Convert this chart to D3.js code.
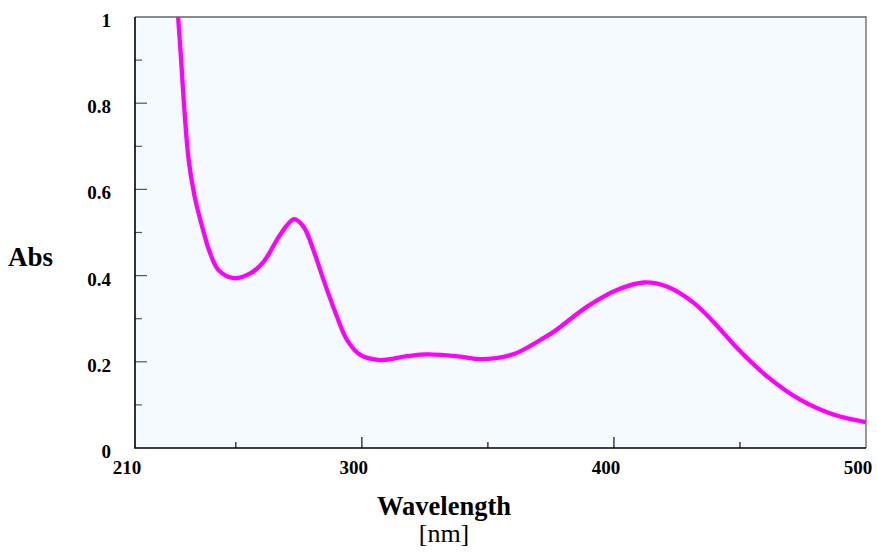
<!DOCTYPE html>
<html>
<head>
<meta charset="utf-8">
<script src="https://cdn.jsdelivr.net/npm/d3@7"></script>
<style>
  html, body { margin: 0; padding: 0; background: #fff; }
  svg { display: block; font-family: "Liberation Serif", "Times New Roman", serif; }
</style>
</head>
<body>
<svg id="chart" width="877" height="552"></svg>
<script>
// spectrum
const wavelength = [227.1, 228.3, 229.6, 231.3, 233.6, 236.8, 239.8, 243.1, 249.3, 255.7, 261.0, 266.3, 270.3, 273.2, 276.9, 280.8, 284.8, 290.1, 294.1, 299.4, 307.3, 317.9, 325.9, 339.1, 347.1, 360.3, 370.9, 376.2, 389.4, 401.4, 411.9, 421.2, 431.8, 442.4, 447.7, 461.0, 474.2, 487.4, 500];
const absorbance = [1.0, 0.9, 0.784, 0.668, 0.585, 0.51, 0.452, 0.413, 0.394, 0.405, 0.432, 0.483, 0.517, 0.531, 0.513, 0.459, 0.39, 0.305, 0.251, 0.216, 0.204, 0.213, 0.217, 0.212, 0.206, 0.218, 0.251, 0.27, 0.328, 0.367, 0.384, 0.374, 0.336, 0.274, 0.239, 0.165, 0.111, 0.077, 0.06];
const xTickLabels = [210, 300, 400, 500];
const xMinorTicks = [250, 350, 450];
const yTickLabels = [0, 0.2, 0.4, 0.6, 0.8, 1];
const yMinorTicks = [0.1, 0.3, 0.5, 0.7, 0.9];

const svg = d3.select('#chart');
const plotLeft = 135, plotRight = 866, plotTop = 17, plotBottom = 448;

const x = d3.scaleLinear().domain([210, 500]).range([plotLeft, plotRight]);
const y = d3.scaleLinear().domain([0, 1]).range([plotBottom, plotTop]);

svg.append('rect')
  .attr('x', plotLeft).attr('y', plotTop)
  .attr('width', plotRight - plotLeft).attr('height', plotBottom - plotTop)
  .attr('fill', '#f5fafe');

svg.append('clipPath').attr('id', 'plot')
  .append('rect').attr('x', plotLeft).attr('y', plotTop)
  .attr('width', plotRight - plotLeft).attr('height', plotBottom - plotTop);

// frame: top and right are grey, axes black
svg.append('path')
  .attr('d', `M${plotLeft},${plotTop}H${plotRight}V${plotBottom}`)
  .attr('fill', 'none').attr('stroke', '#666').attr('stroke-width', 1.3);

// y ticks (inward)
svg.append('g').selectAll('line')
  .data(yTickLabels.filter((v) => v > 0 && v < 1).map((v) => [v, 12]).concat(yMinorTicks.map((v) => [v, 7])))
  .join('line')
  .attr('x1', plotLeft).attr('x2', (d) => plotLeft + d[1])
  .attr('y1', (d) => y(d[0])).attr('y2', (d) => y(d[0]))
  .attr('stroke', '#555').attr('stroke-width', 1.2);

// x ticks (inward)
svg.append('g').selectAll('line')
  .data(xTickLabels.filter((v) => v > 210 && v < 500).map((v) => [v, 11]).concat(xMinorTicks.map((v) => [v, 6])))
  .join('line')
  .attr('x1', (d) => x(d[0])).attr('x2', (d) => x(d[0]))
  .attr('y1', plotBottom).attr('y2', (d) => plotBottom - d[1])
  .attr('stroke', '#111').attr('stroke-width', 1.2);

svg.append('path')
  .attr('d', `M${plotLeft},${plotTop}V${plotBottom}H${plotRight}`)
  .attr('fill', 'none').attr('stroke', '#000').attr('stroke-width', 1.6);

const line = d3.line()
  .x((d) => x(d[0]))
  .y((d) => y(d[1]))
  .curve(d3.curveCatmullRom.alpha(0.5));

svg.append('path')
  .datum(d3.zip(wavelength, absorbance))
  .attr('clip-path', 'url(#plot)')
  .attr('fill', 'none')
  .attr('stroke', '#ff00ff')
  .attr('stroke-width', 4.3)
  .attr('stroke-linejoin', 'round')
  .attr('d', line);

// tick labels
svg.append('g').selectAll('text')
  .data(yTickLabels)
  .join('text')
  .attr('x', 111).attr('y', (d) => y(d) + 10)
  .attr('text-anchor', 'end')
  .attr('font-size', 19).attr('font-weight', 'bold')
  .text((d) => d);

svg.append('g').selectAll('text')
  .data(xTickLabels)
  .join('text')
  .attr('x', (d) => x(d) - 8).attr('y', 474)
  .attr('text-anchor', 'middle')
  .attr('font-size', 19).attr('font-weight', 'bold')
  .text((d) => d);

svg.append('text')
  .attr('x', 8).attr('y', 266)
  .attr('font-size', 27).attr('font-weight', 'bold')
  .text('Abs');

svg.append('text')
  .attr('x', 444).attr('y', 515)
  .attr('text-anchor', 'middle')
  .attr('font-size', 26.5).attr('font-weight', 'bold')
  .text('Wavelength');

svg.append('text')
  .attr('x', 444).attr('y', 542)
  .attr('text-anchor', 'middle')
  .attr('font-size', 26)
  .text('[nm]');
</script>
</body>
</html>
